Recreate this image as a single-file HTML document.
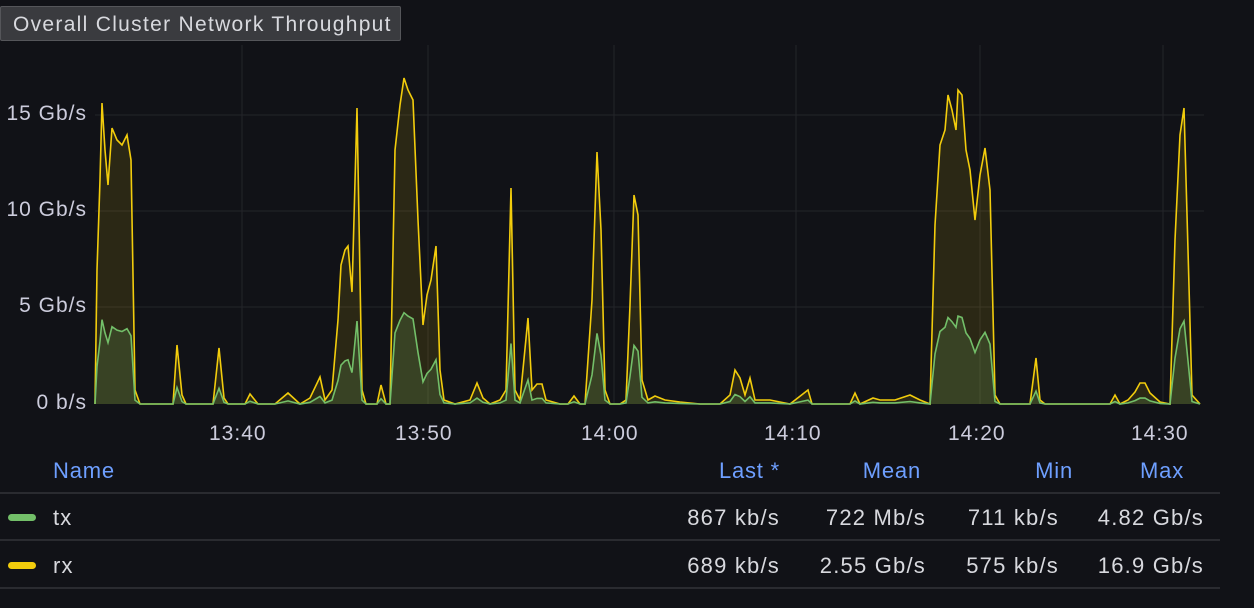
<!DOCTYPE html>
<html><head><meta charset="utf-8"><style>
body{margin:0;background:#111217;width:1254px;height:608px;overflow:hidden;font-family:"Liberation Sans",sans-serif;position:relative}
.t{position:absolute;left:0;top:6px;width:401px;height:35px;background:#3a3b3f;border:1px solid #55565a;border-radius:2px;color:#d8d9de;font-size:21px;letter-spacing:1.3px;line-height:35px;box-sizing:border-box;padding-left:12px;white-space:nowrap}
.a{position:absolute;font-size:21px;letter-spacing:1px;color:#ccccdc}
.h{position:absolute;font-size:22px;letter-spacing:0.8px;color:#6e9fff;top:458px}
.v{position:absolute;font-size:22px;letter-spacing:1.2px;color:#d8d9de}
.ln{position:absolute;left:0;width:1220px;height:2px;background:#2a2b30}
.sw{position:absolute;left:8px;width:28px;height:7px;border-radius:4px}
</style></head><body>
<div class="t">Overall Cluster Network Throughput</div>
<svg id="s" width="1254" height="450" style="position:absolute;left:0;top:0"></svg>
<div class="a" style="right:1167px;top:102px">15 Gb/s</div>
<div class="a" style="right:1167px;top:198px">10 Gb/s</div>
<div class="a" style="right:1167px;top:294px">5 Gb/s</div>
<div class="a" style="right:1167px;top:391px">0 b/s</div>
<div class="a" style="left:209px;top:422px">13:40</div>
<div class="a" style="left:395px;top:422px">13:50</div>
<div class="a" style="left:581px;top:422px">14:00</div>
<div class="a" style="left:764px;top:422px">14:10</div>
<div class="a" style="left:948px;top:422px">14:20</div>
<div class="a" style="left:1131px;top:422px">14:30</div>
<div class="h" style="left:53px">Name</div>
<div class="h" style="right:474px">Last *</div>
<div class="h" style="right:333px">Mean</div>
<div class="h" style="right:181px">Min</div>
<div class="h" style="right:70px">Max</div>
<div class="ln" style="top:492px"></div><div class="ln" style="top:539px"></div><div class="ln" style="top:587px"></div>
<div class="sw" style="top:514px;background:#73bf69"></div><div class="v" style="left:53px;top:505px">tx</div>
<div class="v" style="right:474px;top:505px">867 kb/s</div><div class="v" style="right:328px;top:505px">722 Mb/s</div><div class="v" style="right:195px;top:505px">711 kb/s</div><div class="v" style="right:50px;top:505px">4.82 Gb/s</div>
<div class="sw" style="top:562px;background:#f2cc0c"></div><div class="v" style="left:53px;top:553px">rx</div>
<div class="v" style="right:474px;top:553px">689 kb/s</div><div class="v" style="right:328px;top:553px">2.55 Gb/s</div><div class="v" style="right:195px;top:553px">575 kb/s</div><div class="v" style="right:50px;top:553px">16.9 Gb/s</div>
<script>
var r=[95,404,97,270,100,180,102,103,105,150,108,185,112,128,117,140,122,145,127,135,131,160,135,390,140,404,173,404,177,345,182,395,186,404,213,404,219,348,224,398,228,404,245,404,250,394,258,404,275,404,288,393,300,404,310,398,320,377,325,400,332,390,338,320,341,265,345,250,348,246,352,292,357,108,362,390,366,404,377,404,381,385,386,404,390,404,395,150,400,105,404,78,408,90,413,100,418,220,423,325,427,295,431,280,436,246,440,370,444,400,455,404,470,400,477,383,483,398,490,404,500,400,506,390,511,188,515,390,520,400,528,318,532,390,537,384,542,384,546,400,560,404,568,404,574,396,580,404,585,404,592,300,597,152,601,230,605,390,610,404,620,404,626,400,630,305,634,195,638,215,642,380,648,400,655,396,665,400,680,402,700,404,720,404,730,395,735,370,740,378,745,395,750,378,755,400,770,400,790,404,808,390,812,404,850,404,855,393,860,404,873,398,880,400,895,400,910,395,920,400,930,404,935,225,940,145,945,130,948,95,952,110,956,130,958,90,962,95,966,150,970,170,975,220,980,175,985,148,990,190,995,395,1000,404,1030,404,1036,358,1040,400,1045,404,1110,404,1115,395,1120,404,1128,400,1135,392,1140,383,1145,383,1150,393,1160,402,1170,404,1175,240,1180,135,1184,108,1188,250,1192,395,1200,404];
var s='';
[115,211,307].forEach(function(y){s+='<line x1="95" x2="1204" y1="'+y+'" y2="'+y+'" stroke="#24252a"/>'});
[242,428,614,796,980,1163].forEach(function(x){s+='<line x1="'+x+'" x2="'+x+'" y1="45" y2="404" stroke="#24252a"/>'});
function pts(k){var p=[];for(var i=0;i<r.length;i+=2)p.push(r[i]+','+(404-(404-r[i+1])*k).toFixed(1));return p.join(' ');}
var pr=pts(1),pt=pts(0.28);
s+='<polygon points="95,404 '+pr+' 1200,404" fill="#f2cc0c" fill-opacity="0.12"/>';
s+='<polygon points="95,404 '+pt+' 1200,404" fill="#73bf69" fill-opacity="0.18"/>';
s+='<polyline points="'+pr+'" fill="none" stroke="#f2cc0c" stroke-width="1.6"/>';
s+='<polyline points="'+pt+'" fill="none" stroke="#73bf69" stroke-width="1.6"/>';
document.getElementById('s').innerHTML=s;
</script>
</body></html>
